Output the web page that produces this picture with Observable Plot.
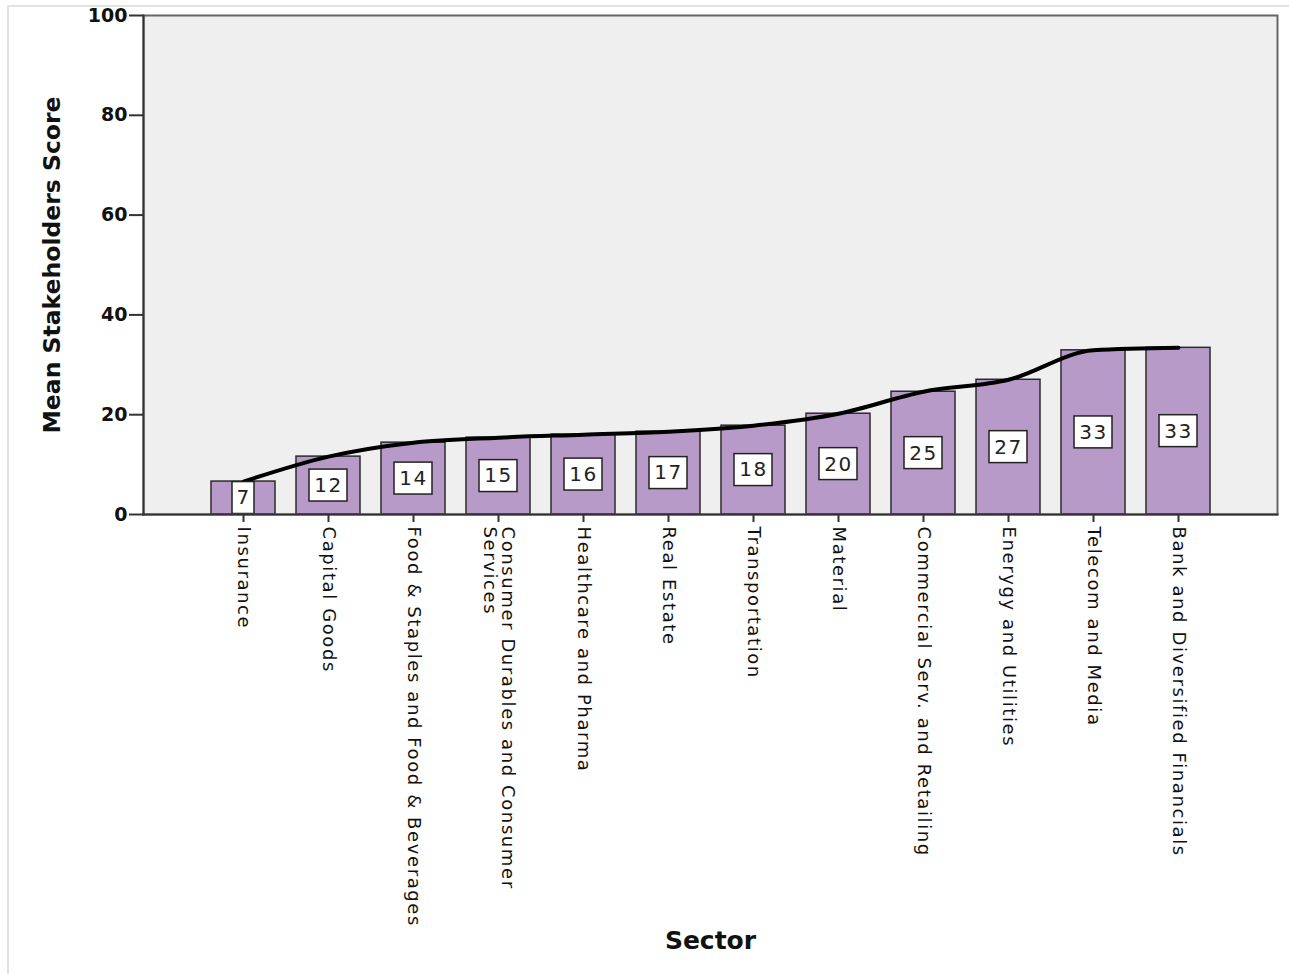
<!DOCTYPE html>
<html>
<head>
<meta charset="utf-8">
<script src="https://cdn.jsdelivr.net/npm/d3@7"></script>
<script src="https://cdn.jsdelivr.net/npm/@observablehq/plot@0.6"></script>
<style>
  html, body { margin: 0; padding: 0; background: #fff; }
  #wrap { position: relative; width: 1289px; height: 974px; overflow: hidden; }
  #edge { position: absolute; left: 7px; top: 5px; right: 0; bottom: 0; border-left: 2px solid #e2e2e2; border-top: 2px solid #e2e2e2; pointer-events: none; }
  #chart { position: absolute; left: 0; top: 0; }
  g[aria-label="x-axis tick label"] text { letter-spacing: 1.6px; }
  g.vlabels text { letter-spacing: 1.5px; }
</style>
</head>
<body>
<div id="wrap"><div id="chart"></div><div id="edge"></div></div>
<script>
const sectors = [
  "Insurance", "Capital Goods", "Food & Staples and Food & Beverages",
  "Consumer Durables and Consumer Services", "Healthcare and Pharma", "Real Estate",
  "Transportation", "Material", "Commercial Serv. and Retailing",
  "Enerygy and Utilities", "Telecom and Media", "Bank and Diversified Financials"
];
const tickLabels = [
  "Insurance", "Capital Goods", "Food & Staples and Food & Beverages",
  "Consumer Durables and Consumer\nServices", "Healthcare and Pharma", "Real Estate",
  "Transportation", "Material", "Commercial Serv. and Retailing",
  "Enerygy and Utilities", "Telecom and Media", "Bank and Diversified Financials"
];
const scores = [6.6, 11.6, 14.4, 15.4, 16.0, 16.6, 17.8, 20.2, 24.6, 27.0, 32.9, 33.4];
const valueLabels = ["7", "12", "14", "15", "16", "17", "18", "20", "25", "27", "33", "33"];
const yTicks = [0, 20, 40, 60, 80, 100];

const data = sectors.map((s, i) => ({sector: s, score: scores[i], label: valueLabels[i]}));
const labelMap = new Map(sectors.map((s, i) => [s, tickLabels[i]]));
const font = "'DejaVu Sans', sans-serif";

const chart = Plot.plot({
  width: 1289,
  height: 974,
  marginLeft: 143,
  marginRight: 12,
  marginTop: 15,
  marginBottom: 460,
  style: {fontFamily: font, background: "transparent", color: "#111"},
  x: {domain: sectors, paddingInner: 0.25, paddingOuter: 0.79, label: null},
  y: {domain: [0, 100], label: null},
  marks: [
    Plot.frame({fill: "#efefef", stroke: "none"}),
    Plot.barY(data, {x: "sector", y: "score", fill: "#b89ac9", stroke: "#2b2b2b", strokeWidth: 1.5}),
    Plot.line(data, {x: "sector", y: "score", stroke: "#000", strokeWidth: 4, curve: "monotone-x"}),
    Plot.barY(data.filter(d => d.label.length === 1), {x: "sector", y1: d => d.score / 2 - 3.2, y2: d => d.score / 2 + 3.2, insetLeft: 21, insetRight: 21, fill: "#fff", stroke: "#222", strokeWidth: 1.5}),
    Plot.barY(data.filter(d => d.label.length > 1), {x: "sector", y1: d => d.score / 2 - 3.2, y2: d => d.score / 2 + 3.2, insetLeft: 13, insetRight: 13, fill: "#fff", stroke: "#222", strokeWidth: 1.5}),
    Plot.text(data, {x: "sector", y: d => d.score / 2, text: "label", fontSize: 20, fill: "#222", className: "vlabels"}),
    Plot.frame({stroke: "#666", strokeWidth: 2, fill: "none"}),
    Plot.frame({anchor: "left", stroke: "#333", strokeWidth: 2}),
    Plot.frame({anchor: "bottom", stroke: "#333", strokeWidth: 2}),
    Plot.axisY({ticks: yTicks, tickSize: 14, tickPadding: 2, fontSize: 19, fontWeight: "bold", stroke: "#333", strokeWidth: 2, label: null}),
    Plot.axisX({tickSize: 8, tickPadding: 4, tickRotate: 90, fontSize: 18, stroke: "#333", strokeWidth: 2, tickFormat: d => labelMap.get(d), label: null}),
    Plot.text(["Sector"], {frameAnchor: "bottom", dy: 434, fontSize: 25, fontWeight: "bold", fill: "#111"}),
    Plot.text(["Mean Stakeholders Score"], {frameAnchor: "left", dx: -91, rotate: -90, textAnchor: "middle", fontSize: 23.5, fontWeight: "bold", fill: "#111"})
  ]
});
document.getElementById("chart").append(chart);
</script>
</body>
</html>
